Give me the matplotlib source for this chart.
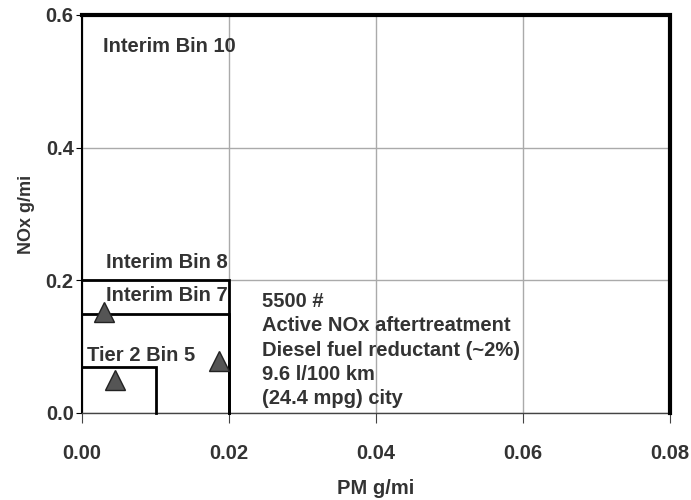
import matplotlib
matplotlib.use('Agg')
import matplotlib.pyplot as plt

plt.rcParams['font.family'] = ['Liberation Sans', 'DejaVu Sans']
plt.rcParams['font.weight'] = 'bold'

# emission standard boxes: (PM limit, NOx limit, label)
bin_names = ['Tier 2 Bin 5', 'Interim Bin 7', 'Interim Bin 8', 'Interim Bin 10']
bin_pm = [0.01, 0.02, 0.02, 0.08]
bin_nox = [0.07, 0.15, 0.20, 0.60]

# measured vehicle points
pt_pm = [0.003, 0.0045, 0.0186]
pt_nox = [0.153, 0.049, 0.078]

note = ['5500 #', 'Active NOx aftertreatment', 'Diesel fuel reductant (~2%)',
        '9.6 l/100 km', '(24.4 mpg) city']

txt = '#333333'
fs = 14.5

fig = plt.figure(figsize=(6.91, 5.0), dpi=100)
ax = fig.add_axes([0.1187, 0.174, 0.851, 0.796])
ax.set_xlim(0, 0.08)
ax.set_ylim(0, 0.6)

ax.set_xticks([0, 0.02, 0.04, 0.06, 0.08])
ax.set_yticks([0, 0.2, 0.4, 0.6])
ax.set_xticklabels(['0.00', '0.02', '0.04', '0.06', '0.08'])
ax.set_yticklabels(['0.0', '0.2', '0.4', '0.6'])
ax.grid(True, color='#aaaaaa', linewidth=1)
ax.set_axisbelow(True)
for s in ['top', 'right']:
    ax.spines[s].set_visible(False)
ax.spines['left'].set_color('black')
ax.spines['left'].set_linewidth(1.5)
ax.spines['bottom'].set_color('#444444')
ax.spines['bottom'].set_linewidth(1)
ax.tick_params(axis='x', length=7, pad=15, labelsize=fs, labelcolor=txt, color='#444444')
ax.tick_params(axis='y', length=4, pad=2, labelsize=fs, labelcolor=txt)

# boxes
for pm, nox in zip(bin_pm, bin_nox):
    lw = 2 if pm < 0.08 else 3
    ax.plot([0, pm, pm], [nox, nox, 0], color='black', linewidth=lw,
            solid_joinstyle='miter', clip_on=False, zorder=3)

ax.plot(pt_pm, pt_nox, linestyle='none', marker='^', markersize=15,
        markerfacecolor='#555555', markeredgecolor='#222222', zorder=4)

# box labels
label_pos = [(0.0007, 0.086), (0.0033, 0.177), (0.0033, 0.227), (0.0029, 0.553)]
for name, (x, y) in zip(bin_names, label_pos):
    ax.text(x, y, name, fontsize=fs, color=txt, fontweight='bold', va='center')

for i, line in enumerate(note):
    ax.text(0.0245, 0.168 - i * 0.0367, line, fontsize=fs, color=txt,
            fontweight='bold', va='center')

ax.set_xlabel('PM g/mi', fontsize=fs, color=txt, fontweight='bold', labelpad=12)
ax.set_ylabel('NOx g/mi', fontsize=13, color=txt, fontweight='bold', labelpad=8)

fig.savefig('out.png', dpi=100)
